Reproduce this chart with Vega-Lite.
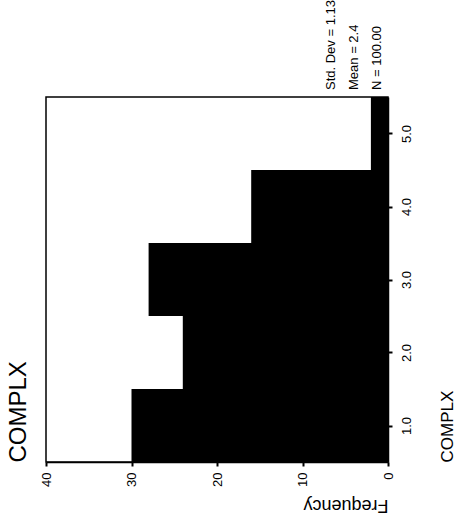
{
  "$schema": "https://vega.github.io/schema/vega-lite/v6.json",
  "width": 342,
  "height": 365,
  "padding": {"left": 6, "right": 0, "top": 0, "bottom": 0},
  "autosize": {"type": "pad"},
  "config": {
    "font": "Liberation Sans",
    "view": {"stroke": "black", "strokeWidth": 1.5}
  },
  "data": {
    "values": [
      {"bin_start": 0.5, "bin_end": 1.5, "count": 30},
      {"bin_start": 1.5, "bin_end": 2.5, "count": 24},
      {"bin_start": 2.5, "bin_end": 3.5, "count": 28},
      {"bin_start": 3.5, "bin_end": 4.5, "count": 16},
      {"bin_start": 4.5, "bin_end": 5.5, "count": 2}
    ]
  },
  "layer": [
    {
      "mark": {"type": "bar", "color": "black"},
      "encoding": {
        "x": {
          "field": "count",
          "type": "quantitative",
          "scale": {"domain": [0, 40], "reverse": true, "nice": false},
          "axis": {
            "orient": "bottom",
            "values": [0, 10, 20, 30, 40],
            "grid": false,
            "labelAngle": 270,
            "labelAlign": "right",
            "labelBaseline": "middle",
            "labelFontSize": 13,
            "labelColor": "black",
            "labelPadding": 6,
            "labelFlush": false,
            "tickSize": 4,
            "tickWidth": 2,
            "tickColor": "black",
            "domainColor": "black",
            "domainWidth": 1.5,
            "title": "Frequency",
            "titleAngle": 180,
            "titleAnchor": "start",
            "titleAlign": "left",
            "titleBaseline": "bottom",
            "titleFontSize": 18,
            "titleFontWeight": "normal",
            "titleColor": "black",
            "titlePadding": 9
          }
        },
        "x2": {"datum": 0},
        "y2": {"field": "bin_end"},
        "y": {
          "field": "bin_start",
          "type": "quantitative",
          "scale": {"domain": [0.5, 5.5], "nice": false, "zero": false},
          "axis": {
            "orient": "right",
            "values": [1, 2, 3, 4, 5],
            "format": ".1f",
            "grid": false,
            "labelAngle": 270,
            "labelAlign": "center",
            "labelBaseline": "top",
            "labelFontSize": 13,
            "labelColor": "black",
            "labelPadding": 8,
            "labelFlush": false,
            "tickSize": 4,
            "tickWidth": 2,
            "tickColor": "black",
            "domainColor": "black",
            "domainWidth": 1.5,
            "title": "COMPLX",
            "titleAngle": 270,
            "titleAnchor": "start",
            "titleAlign": "left",
            "titleBaseline": "top",
            "titleFontSize": 17,
            "titleFontWeight": "normal",
            "titleColor": "black",
            "titlePadding": 26
          }
        }
      }
    },
    {
      "data": {"values": [{"stat": "Std. Dev = 1.13", "pos": 7.35}, {"stat": "Mean = 2.4", "pos": 4.65}, {"stat": "N = 100.00", "pos": 1.95}]},
      "mark": {
        "type": "text",
        "angle": 270,
        "align": "left",
        "baseline": "top",
        "fontSize": 13,
        "font": "Liberation Sans",
        "color": "black",
        "dx": 7
      },
      "encoding": {
        "text": {"field": "stat", "type": "nominal"},
        "x": {"field": "pos", "type": "quantitative"},
        "y": {
          "datum": 5.5,
          "type": "quantitative",
          "axis": {
            "orient": "left",
            "labels": false,
            "ticks": false,
            "domain": false,
            "grid": false,
            "title": "COMPLX",
            "titleAngle": 270,
            "titleAnchor": "start",
            "titleAlign": "left",
            "titleBaseline": "bottom",
            "titleFontSize": 24,
            "titleFontWeight": "normal",
            "titleColor": "black",
            "titlePadding": 16
          }
        }
      }
    }
  ],
  "resolve": {"axis": {"y": "independent"}}
}
